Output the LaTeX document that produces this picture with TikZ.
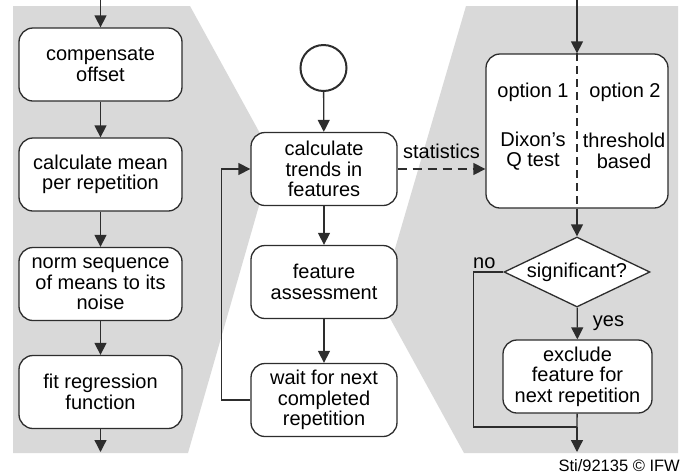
\documentclass[tikz,border=0pt]{standalone}
\usepackage{fontspec}
\setmainfont{Liberation Sans}
\usetikzlibrary{arrows.meta,shapes.geometric}
\definecolor{panelgray}{RGB}{217,217,217}
\definecolor{linegray}{RGB}{45,45,45}

\begin{document}
\begin{tikzpicture}[x=1pt,y=-1pt,
  every node/.style={font=\fontsize{20}{20.5}\selectfont},
  stepbox/.style={draw=linegray,line width=1.3pt,fill=white,rounded corners=14pt,align=center,inner sep=0pt,minimum height=73pt},
  flow/.style={draw=linegray,line width=1.3pt,-{Triangle[length=12pt,width=12pt]}},
  lbl/.style={inner sep=0pt,align=center}]
  \useasboundingbox (0,0) rectangle (689,475);
  \fill[panelgray] (13,6) -- (190,6) -- (273,157) -- (188,453) -- (13,453) -- cycle;
  \fill[panelgray] (466,6) -- (678,6) -- (678,453) -- (464,453) -- (380,300) -- cycle;

  \coordinate (lin) at (100.5,0);
  \coordinate (lout) at (100.5,452);
  \node[stepbox,minimum width=163pt] (comp) at (100.5,64.5) {compensate\\offset};
  \node[stepbox,minimum width=163pt] (mean) at (100.5,174.5) {calculate mean\\per repetition};
  \node[stepbox,minimum width=163pt] (norm) at (100.5,284) {norm sequence\\of means to its\\noise};
  \node[stepbox,minimum width=163pt] (regr) at (100.5,392) {fit regression\\function};
  \draw[flow] (lin) -- (comp);
  \draw[flow] (comp) -- (mean);
  \draw[flow] (mean) -- (norm);
  \draw[flow] (norm) -- (regr);
  \draw[flow] (regr) -- (lout);

  \node[draw=linegray,line width=2pt,circle,minimum size=46pt,inner sep=0pt] (start) at (323.5,68) {};
  \node[stepbox,minimum width=146pt] (trend) at (324,169) {calculate\\trends in\\features};
  \node[stepbox,minimum width=146pt] (assess) at (324,282) {feature\\assessment};
  \node[stepbox,minimum width=146pt] (wait) at (324,400) {wait for next\\completed\\repetition};
  \draw[flow] (start) -- (trend);
  \draw[flow] (trend) -- (assess);
  \draw[flow] (assess) -- (wait);
  \draw[flow] (wait.west) -- ++(-29,0) |- (trend.west);

  \coordinate (rin) at (577,0);
  \coordinate (join) at (577,427);
  \coordinate (rout) at (577,452);
  \node[stepbox,minimum width=182pt,minimum height=154pt] (test) at (577,131) {};
  \draw[linegray,line width=1.3pt,dash pattern=on 8pt off 5pt] (test.north) -- (test.south);
  \node[lbl] (opt1) at (533,92) {option 1};
  \node[lbl] (opt2) at (625,92) {option 2};
  \node[lbl] (dixon) at (533,151) {Dixon’s\\Q test};
  \node[lbl] (thresh) at (624,151) {threshold\\based};
  \node[diamond,draw=linegray,line width=1.3pt,fill=white,minimum width=146pt,minimum height=70pt,aspect=2.1,inner sep=0pt] (sig) at (577,272) {significant?};
  \node[stepbox,minimum width=149pt] (excl) at (577.5,376.5) {exclude\\feature for\\next repetition};
  \draw[flow] (rin) -- (test);
  \draw[flow,dash pattern=on 9pt off 6pt] (trend.east) -- (trend.east -| test.west)
    node[midway,above=10pt,lbl] (stat) {statistics};
  \draw[flow] (test) -- (sig);
  \draw[flow] (sig) -- (excl) node[midway,right=15pt,lbl] (yes) {yes};
  \node[lbl,anchor=base west] (no) at (473,268) {no};
  \draw[linegray,line width=1.3pt] (sig.west) -- ++(-30,0) |- (join);
  \draw[linegray,line width=1.3pt] (excl) -- (join);
  \draw[flow] (join) -- (rout);

  \node[lbl,anchor=base east,font=\fontsize{16.5}{18}\selectfont] (credit) at (680,471) {Sti/92135 © IFW};
\end{tikzpicture}
\end{document}
